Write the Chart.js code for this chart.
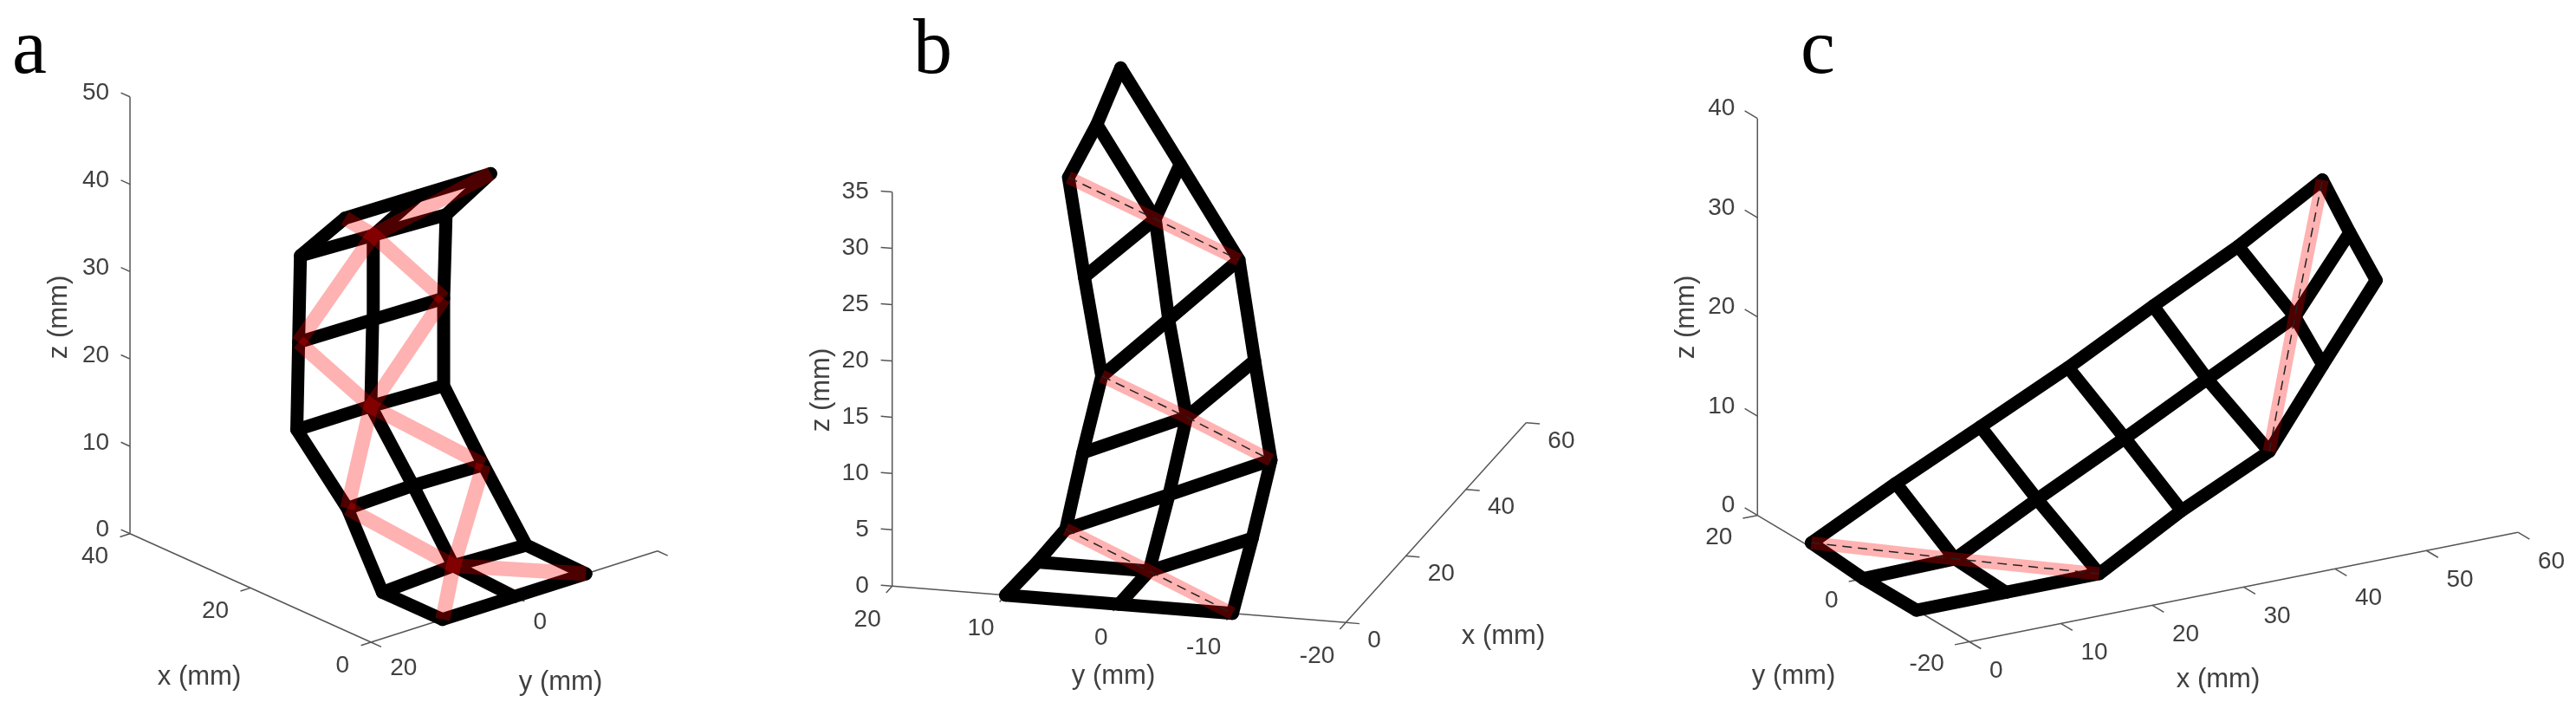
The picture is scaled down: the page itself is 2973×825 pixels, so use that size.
<!DOCTYPE html>
<html>
<head>
<meta charset="utf-8">
<style>
  html, body { margin: 0; padding: 0; background: #fff; }
  canvas { position: absolute; top: 0; display: block; }
</style>
<script src="https://cdn.jsdelivr.net/npm/chart.js@4"></script>
</head>
<body>
<canvas id="panelA" style="left:0" width="900" height="825"></canvas>
<canvas id="panelB" style="left:900px" width="1020" height="825"></canvas>
<canvas id="panelC" style="left:1920px" width="1053" height="825"></canvas>
<script>
// ===============================
// DATOS - nodes of each strip, row by row (mm)
// ===============================
const aLeftX = [0, 10, 15.8, 24.2, 23.9, 23.6, 16.2];
const aLeftY = [10, 10, 10, 10, 10, 10, 10];
const aLeftZ = [0, 0, 7.8, 14.2, 24.3, 34.3, 40.9];
const aMidX = [0, 10.1, 16.8, 23.8, 23.5, 23.4, 16];
const aMidY = [0, 0, 0, 0, 0, 0, 0];
const aMidZ = [0, 0.4, 7.5, 14.4, 24.4, 34.1, 40.9];
const aRightX = [0, 9.9, 17, 23.6, 23.6, 23.2, 15.8];
const aRightY = [-10, -10, -10, -10, -10, -10, -10];
const aRightZ = [0, 0.2, 7.2, 14.2, 24.2, 33.9, 40.9];

const bLeftX = [0, 10, 17, 24, 32, 40, 50];
const bLeftY = [10, 9.85, 9.2, 9.55, 10, 13.65, 17.7];
const bLeftZ = [0, 0, 0.9, 5.6, 10, 16.15, 21.7];
const bMidX = [0, 10, 17, 24, 32, 40, 50];
const bMidY = [0, 0, 0.1, 0.4, 4.1, 7.4, 15.2];
const bMidZ = [0, 0, 4.7, 9.5, 15.5, 21.8, 26.6];
const bRightX = [0, 10, 17, 24, 32, 40, 50];
const bRightY = [-10, -9.1, -8.9, -5.6, -2.1, 5.2, 13.1];
const bRightZ = [0, 3.65, 8.5, 15, 21.3, 26.85, 31.8];

const cLeftX = [0.1, 9.35, 18.6, 28.2, 37.5, 46.8, 56];
const cLeftY = [10, 10, 10, 10, 10, 10, 10];
const cLeftZ = [0.4, 4.7, 8.7, 12.9, 17.4, 21.7, 26.7];
const cMidX = [0, 10, 19, 28.6, 37.6, 47.2, 53.2];
const cMidY = [0, 0, 0, 0, 0, 0, 0];
const cMidZ = [0, 0.15, 4.5, 8.9, 13.2, 17.7, 25.1];
const cRightX = [0, 9.8, 20, 29, 38.6, 44.45, 50.3];
const cRightY = [-10, -10, -10, -10, -10, -10, -10];
const cRightZ = [0, 0, 0, 4.7, 8.9, 16.55, 24];

// ticks of each axis
const aXTicks = [0, 20, 40];
const aYTicks = [20, 0, -20];
const aYLabels = ["20", "0", ""];
const aZTicks = [0, 10, 20, 30, 40, 50];
const bXTicks = [0, 20, 40, 60];
const bYTicks = [20, 10, 0, -10, -20];
const bYLabels = ["20", "10", "0", "-10", "-20"];
const bZTicks = [0, 5, 10, 15, 20, 25, 30, 35];
const cXTicks = [0, 10, 20, 30, 40, 50, 60];
const cYTicks = [20, 0, -20];
const cYLabels = ["20", "0", "-20"];
const cZTicks = [0, 10, 20, 30, 40];

// red diagonals: [row, column] of the nodes they go through (0 left, 1 mid, 2 right)
const aDiagonals = [
    [[0, 0], [1, 1], [2, 2]], [[0, 2], [1, 1], [2, 0]],
    [[2, 0], [3, 1], [4, 2]], [[2, 2], [3, 1], [4, 0]],
    [[4, 0], [5, 1], [6, 2]], [[4, 2], [5, 1], [6, 0]]
];
const bDiagonals = [
    [[6, 0], [5, 1], [4, 2]], [[4, 0], [3, 1], [2, 2]], [[2, 0], [1, 1], [0, 2]]
];
const cDiagonals = [
    [[0, 0], [1, 1], [2, 2]], [[4, 2], [5, 1], [6, 0]]
];

const TICK_FONT = "28px 'Liberation Sans', Arial, sans-serif";
const LABEL_FONT = "31px 'Liberation Sans', Arial, sans-serif";
const LETTER_FONT = "90px 'Liberation Serif', 'Times New Roman', serif";
const TEXT_COLOR = "#404040";
const AXIS_COLOR = "#555555";

// ===============================
// one panel = one scatter chart, the 3D view is a plain linear projection
// ===============================
function makePanel(id, cfg) {
    const project = (x, y, z) => ({
        x: cfg.view.o[0] + x * cfg.view.ex[0] + y * cfg.view.ey[0] + z * cfg.view.ez[0],
        y: cfg.view.o[1] + x * cfg.view.ex[1] + y * cfg.view.ey[1] + z * cfg.view.ez[1]
    });
    const node = (r, c) => project(cfg.cols[c].x[r], cfg.cols[c].y[r], cfg.cols[c].z[r]);
    const rows = cfg.cols[0].x.map((_, r) => r);
    const datasets = [];

    function addLine(data, style) {
        datasets.push(Object.assign({
            data: data,
            showLine: true,
            pointRadius: 0,
            tension: 0,
            clip: false
        }, style));
    }

    // red diagonals on top of the black grid, with the thin dashed line in b and c
    cfg.diagonals.forEach(path => {
        const pts = path.map(p => node(p[0], p[1]));
        if (cfg.dashed) {
            addLine(pts, { borderColor: "#222222", borderWidth: 1.5, borderDash: [11, 7], order: 0 });
        }
        addLine(pts, { borderColor: "rgba(255,0,0,0.3)", borderWidth: cfg.redWidth, borderCapStyle: "butt", order: 1 });
    });

    // black grid
    const black = { borderColor: "#000000", borderWidth: 15, borderCapStyle: "round", borderJoinStyle: "round", order: 2 };
    cfg.cols.forEach((col, c) => addLine(rows.map(r => node(r, c)), black));
    rows.forEach(r => addLine([0, 1, 2].map(c => node(r, c)), black));

    // axes and tick marks
    const thin = { borderColor: AXIS_COLOR, borderWidth: 1.5, order: 3 };
    const a = cfg.axes;
    const xEnds = [a.xTicks[0], a.xTicks[a.xTicks.length - 1]];
    const yEnds = [a.yTicks[0], a.yTicks[a.yTicks.length - 1]];
    const zEnds = [a.zTicks[0], a.zTicks[a.zTicks.length - 1]];
    addLine(xEnds.map(v => project(v, a.xAt[0], a.xAt[1])), thin);
    addLine(yEnds.map(v => project(a.yAt[0], v, a.yAt[1])), thin);
    addLine(zEnds.map(v => project(a.zAt[0], a.zAt[1], v)), thin);
    a.xTicks.forEach(v => addLine([project(v, a.xAt[0], a.xAt[1]), project(v, a.xAt[0] + a.xLen, a.xAt[1])], thin));
    a.yTicks.forEach(v => addLine([project(a.yAt[0], v, a.yAt[1]), project(a.yAt[0] + a.yLen, v, a.yAt[1])], thin));
    a.zTicks.forEach(v => addLine([project(a.zAt[0], a.zAt[1], v),
        project(a.zAt[0] + a.zLen[0], a.zAt[1] + a.zLen[1], v)], thin));

    // tick labels, axis titles and the panel letter
    const textPlugin = {
        id: "panelText",
        afterDraw(chart) {
            const ctx = chart.ctx;
            const sx = chart.scales.x, sy = chart.scales.y;
            const put = (p, off, txt, align) => {
                ctx.textAlign = align;
                ctx.fillText(txt, sx.getPixelForValue(p.x) + off[0], sy.getPixelForValue(p.y) + off[1]);
            };
            ctx.save();
            ctx.fillStyle = TEXT_COLOR;
            ctx.textBaseline = "middle";
            ctx.font = TICK_FONT;
            a.xTicks.forEach(v => put(project(v, a.xAt[0], a.xAt[1]), cfg.off.x, String(v), cfg.off.xAlign));
            a.yTicks.forEach((v, i) => put(project(a.yAt[0], v, a.yAt[1]), cfg.off.y, a.yLabels[i], cfg.off.yAlign));
            a.zTicks.forEach(v => put(project(a.zAt[0], a.zAt[1], v), cfg.off.z, String(v), "right"));

            ctx.font = LABEL_FONT;
            ctx.textAlign = "center";
            const left = chart.scales.x.min;
            ctx.fillText("x (mm)", cfg.titles.x[0] - left, cfg.titles.x[1]);
            ctx.fillText("y (mm)", cfg.titles.y[0] - left, cfg.titles.y[1]);
            ctx.save();
            ctx.translate(cfg.titles.z[0] - left, cfg.titles.z[1]);
            ctx.rotate(-Math.PI / 2);
            ctx.fillText("z (mm)", 0, 0);
            ctx.restore();

            ctx.fillStyle = "#000000";
            ctx.font = LETTER_FONT;
            ctx.textAlign = "left";
            ctx.textBaseline = "alphabetic";
            ctx.fillText(cfg.letter, cfg.letterAt[0] - left, cfg.letterAt[1]);
            ctx.restore();
        }
    };

    return new Chart(document.getElementById(id), {
        type: "scatter",
        data: { datasets: datasets },
        plugins: [textPlugin],
        options: {
            responsive: false,
            animation: false,
            devicePixelRatio: 1,
            layout: { padding: 0 },
            plugins: { legend: { display: false }, tooltip: { enabled: false } },
            scales: {
                x: { type: "linear", display: false, min: cfg.range[0], max: cfg.range[1] },
                y: { type: "linear", display: false, reverse: true, min: 0, max: 825 }
            }
        }
    });
}

// ===============================
// PANEL a
// ===============================
makePanel("panelA", {
    letter: "a",
    letterAt: [14, 84],
    range: [0, 900],
    redWidth: 17,
    dashed: false,
    view: { o: [593.5, 688.4], ex: [-6.954, -3.132], ey: [-8.266, 2.632], ez: [0, -10.08] },
    cols: [
        { x: aLeftX, y: aLeftY, z: aLeftZ },
        { x: aMidX, y: aMidY, z: aMidZ },
        { x: aRightX, y: aRightY, z: aRightZ }
    ],
    diagonals: aDiagonals,
    axes: {
        xTicks: aXTicks, yTicks: aYTicks, yLabels: aYLabels, zTicks: aZTicks,
        xAt: [20, 0], yAt: [0, 0], zAt: [40, 20],
        xLen: 1.4, yLen: -1.7, zLen: [1.5, 0]
    },
    off: { x: [-25, 27], xAlign: "right", y: [22, 30], yAlign: "left", z: [-24, -4] },
    titles: { x: [230, 781], y: [647, 787], z: [68, 366] }
});

// ===============================
// PANEL b
// ===============================
makePanel("panelB", {
    letter: "b",
    letterAt: [1054, 84],
    range: [900, 1920],
    redWidth: 15,
    dashed: true,
    view: { o: [1291.5, 697.3], ex: [3.467, -3.842], ey: [-13.09, -1.053], ez: [0, -12.99] },
    cols: [
        { x: bLeftX, y: bLeftY, z: bLeftZ },
        { x: bMidX, y: bMidY, z: bMidZ },
        { x: bRightX, y: bRightY, z: bRightZ }
    ],
    diagonals: bDiagonals,
    axes: {
        xTicks: bXTicks, yTicks: bYTicks, yLabels: bYLabels, zTicks: bZTicks,
        xAt: [-20, 0], yAt: [0, 0], zAt: [0, 20],
        xLen: -1.2, yLen: -2, zLen: [0, 1]
    },
    off: { x: [25, 21], xAlign: "left", y: [-13, 39], yAlign: "right", z: [-27, 0] },
    titles: { x: [1735, 734], y: [1285, 780], z: [948, 450] }
});

// ===============================
// PANEL c
// ===============================
makePanel("panelC", {
    letter: "c",
    letterAt: [2078, 84],
    range: [1920, 2973],
    redWidth: 15,
    dashed: true,
    view: { o: [2150.6, 667.6], ex: [10.55, -2.105], ey: [-6.115, -3.645], ez: [0, -11.45] },
    cols: [
        { x: cLeftX, y: cLeftY, z: cLeftZ },
        { x: cMidX, y: cMidY, z: cMidZ },
        { x: cRightX, y: cRightY, z: cRightZ }
    ],
    diagonals: cDiagonals,
    axes: {
        xTicks: cXTicks, yTicks: cYTicks, yLabels: cYLabels, zTicks: cZTicks,
        xAt: [-20, 0], yAt: [0, 0], zAt: [0, 20],
        xLen: -2.2, yLen: -1.6, zLen: [0, 2.4]
    },
    off: { x: [23, 34], xAlign: "left", y: [-29, 26], yAlign: "right", z: [-26, -11] },
    titles: { x: [2560, 784], y: [2070, 780], z: [1946, 366] }
});
</script>
</body>
</html>
